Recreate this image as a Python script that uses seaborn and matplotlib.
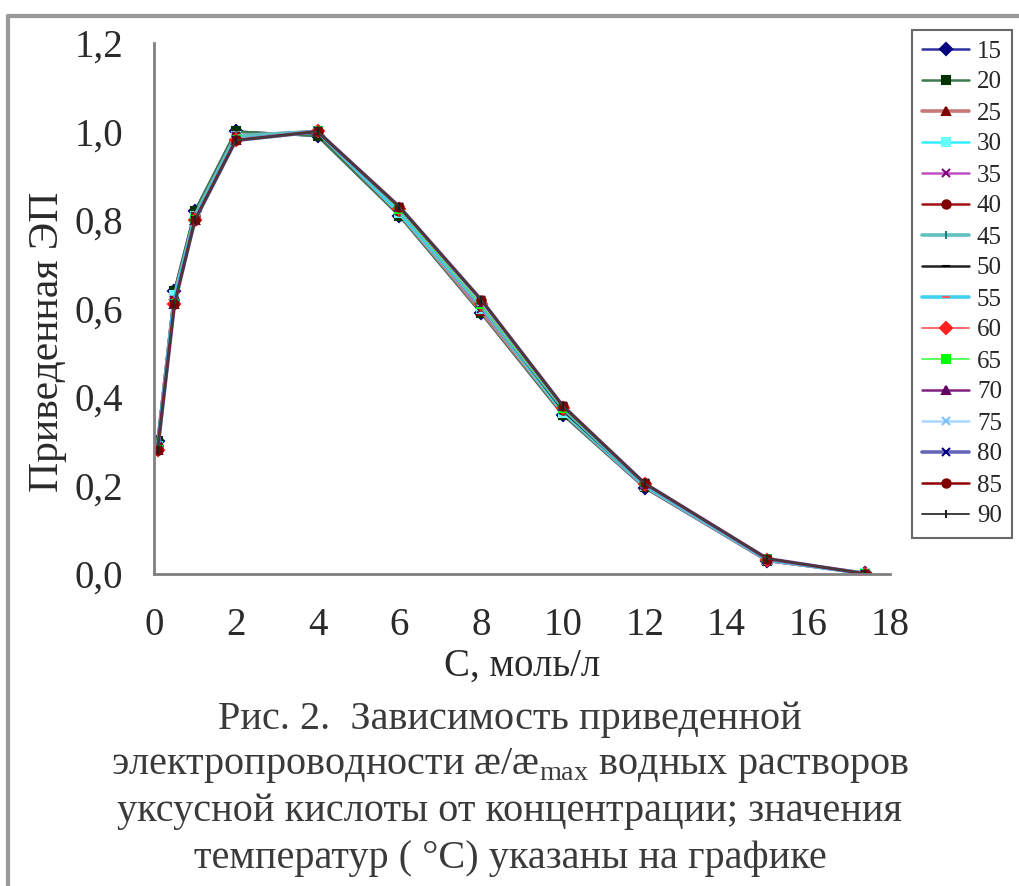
import numpy as np
import pandas as pd
import seaborn as sns
import matplotlib.pyplot as plt
from matplotlib.lines import Line2D

# concentration, mol/l
conc = [0.087, 0.5, 1, 2, 4, 6, 8, 10, 12, 15, 17.4]
temps = [15, 20, 25, 30, 35, 40, 45, 50, 55, 60, 65, 70, 75, 80, 85, 90]

# reduced conductivity for each temperature
y15 = [0.30, 0.64, 0.82, 1.00, 0.99, 0.81, 0.59, 0.36, 0.195, 0.030, 0.002]
y20 = [0.30, 0.64, 0.82, 1.00, 0.99, 0.81, 0.59, 0.36, 0.196, 0.030, 0.002]
y25 = [0.29, 0.63, 0.80, 0.99, 1.00, 0.815, 0.595, 0.365, 0.198, 0.031, 0.002]
y30 = [0.29, 0.63, 0.81, 0.99, 1.00, 0.815, 0.60, 0.365, 0.198, 0.031, 0.002]
y35 = [0.29, 0.62, 0.81, 0.99, 1.00, 0.82, 0.60, 0.37, 0.200, 0.030, 0.001]
y40 = [0.29, 0.62, 0.81, 0.99, 1.00, 0.82, 0.605, 0.37, 0.200, 0.032, 0.001]
y45 = [0.29, 0.62, 0.81, 0.99, 1.00, 0.82, 0.605, 0.37, 0.200, 0.032, 0.001]
y50 = [0.29, 0.62, 0.80, 0.98, 1.00, 0.82, 0.61, 0.37, 0.202, 0.033, 0.001]
y55 = [0.28, 0.62, 0.80, 0.98, 1.00, 0.82, 0.61, 0.375, 0.202, 0.033, 0.001]
y60 = [0.28, 0.61, 0.80, 0.98, 1.00, 0.825, 0.61, 0.375, 0.203, 0.033, 0.001]
y65 = [0.28, 0.61, 0.80, 0.98, 1.00, 0.825, 0.61, 0.375, 0.203, 0.034, 0.001]
y70 = [0.28, 0.61, 0.80, 0.98, 1.00, 0.83, 0.615, 0.38, 0.204, 0.034, 0.001]
y75 = [0.28, 0.61, 0.80, 0.98, 1.00, 0.83, 0.615, 0.38, 0.204, 0.034, 0.001]
y80 = [0.28, 0.61, 0.80, 0.98, 1.00, 0.83, 0.62, 0.38, 0.205, 0.035, 0.001]
y85 = [0.28, 0.61, 0.80, 0.98, 1.00, 0.83, 0.62, 0.38, 0.205, 0.035, 0.001]
y90 = [0.28, 0.61, 0.80, 0.98, 1.00, 0.83, 0.62, 0.38, 0.205, 0.035, 0.001]
curves = [y15, y20, y25, y30, y35, y40, y45, y50,
          y55, y60, y65, y70, y75, y80, y85, y90]

# (line colour, marker, marker colour, line width) per series, Excel-like
styles = [
    ('#3030a0', 'D', '#000080', 1.8),
    ('#3d7a4d', 's', '#003300', 1.8),
    ('#c87878', '^', '#800000', 2.6),
    ('#33eeff', 's', '#66ffff', 1.8),
    ('#c050c0', 'x', '#800080', 1.8),
    ('#a01010', 'o', '#800000', 1.8),
    ('#60c0c0', '|', '#208080', 2.6),
    ('#202020', '_', '#000000', 1.8),
    ('#40d0f0', '_', '#ff6060', 2.6),
    ('#ff5050', 'D', '#ff2020', 1.2),
    ('#40ff40', 's', '#00ff00', 1.2),
    ('#802080', '^', '#600060', 1.8),
    ('#a8d8ff', 'x', '#80c0ff', 1.8),
    ('#6666b8', 'x', '#000080', 2.6),
    ('#900000', 'o', '#800000', 1.8),
    ('#404040', '|', '#202020', 1.4),
]

sns.set_style('white')
plt.rcParams['font.family'] = ['Liberation Serif', 'DejaVu Serif']
plt.rcParams['mathtext.fontset'] = 'custom'
plt.rcParams['mathtext.rm'] = 'Liberation Serif'

fig = plt.figure(figsize=(10.2, 8.86), dpi=100)
ax = fig.add_axes([0.151, 0.352, 0.7215, 0.5995])

for t, yv, (lc, mk, mc, lw) in zip(temps, curves, styles):
    sns.lineplot(x=conc, y=yv, ax=ax, color=lc, lw=lw, marker=mk, ms=6,
                 markerfacecolor=mc, markeredgecolor=mc, mew=1.5,
                 label=str(t), sort=False)

ax.set_xlim(0, 18)
ax.set_ylim(0, 1.2)
ax.set_xticks(np.arange(0, 19, 2))
ax.set_yticks(np.arange(0, 1.21, 0.2))
ax.set_yticklabels([f'{v:.1f}'.replace('.', ',') for v in np.arange(0, 1.21, 0.2)])
ax.tick_params(axis='both', direction='out', length=10, width=1.5,
               color='#808080', labelsize=28, labelcolor='#2a2a2a', pad=12)
ax.tick_params(axis='x', pad=14)
for s in ['top', 'right']:
    ax.spines[s].set_visible(False)
for s in ['left', 'bottom']:
    ax.spines[s].set_color('#808080')
    ax.spines[s].set_linewidth(2)

ax.set_xlabel('С, моль/л', fontsize=28, color='#2a2a2a', labelpad=2)
ax.set_ylabel('Приведенная ЭП', fontsize=30, color='#2a2a2a')
ax.yaxis.set_label_coords(-0.118, 0.437)

handles, labels = ax.get_legend_handles_labels()
ax.get_legend().remove()
leg = fig.legend(handles, labels, loc='upper right',
                 bbox_to_anchor=(1012 / 1020, 1 - 30 / 886),
                 fontsize=18, frameon=True, fancybox=False, edgecolor='#444444',
                 handlelength=1.9, handletextpad=0.3, labelspacing=0.34,
                 borderpad=0.4, borderaxespad=0)
leg.get_frame().set_linewidth(1.5)

caption = ['Рис. 2.  Зависимость приведенной',
           r'электропроводности æ/æ$_{\mathrm{max}}$ водных растворов',
           'уксусной кислоты от концентрации; значения',
           'температур ( °C) указаны на графике']
for i, line in enumerate(caption):
    fig.text(0.5, 1 - (719 + 46.5 * i) / 886, line, ha='center', va='center',
             fontsize=29, color='#3a3a3a')

# grey outer frame of the figure (top and left)
fig.add_artist(Line2D([8 / 1020, 1], [1 - 16 / 886, 1 - 16 / 886],
                      transform=fig.transFigure, color='#999999', lw=3))
fig.add_artist(Line2D([8 / 1020, 8 / 1020], [0, 1 - 16 / 886],
                      transform=fig.transFigure, color='#999999', lw=3))

fig.savefig('out.png', dpi=100)
